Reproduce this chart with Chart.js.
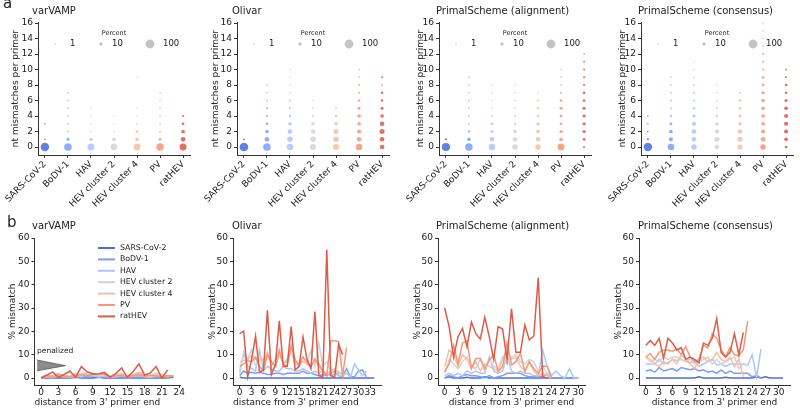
<!DOCTYPE html>
<html>
<head>
<meta charset="utf-8">
<script src="https://cdn.jsdelivr.net/npm/chart.js@4.4.1/dist/chart.umd.min.js"></script>
<style>
  body { margin: 0; background: #fff; }
  #fig { position: relative; width: 800px; height: 410px; overflow: hidden;
         font-family: "DejaVu Sans", sans-serif; color: #222; }
  #fig canvas { position: absolute; }
  .txt { position: absolute; white-space: nowrap; line-height: 1; }
</style>
</head>
<body>
<div id="fig"></div>
<script>
// ---- data ----
const categories = ['SARS-CoV-2', 'BoDV-1', 'HAV', 'HEV cluster 2', 'HEV cluster 4', 'PV', 'ratHEV'];
const tools = ['varVAMP', 'Olivar', 'PrimalScheme (alignment)', 'PrimalScheme (consensus)'];

// panel a: percent of primers with 0,1,2,... nt mismatches (one row per virus)
const varvampPct = [
  [92, 1, 0, 0.8],
  [72, 9, 1, 0.8, 0.8, 0.8, 0.6, 0.5],
  [62, 9, 1, 1, 0.6, 0.5],
  [52, 13, 1.5, 0.8, 0.5],
  [60, 13, 6, 1.5, 1, 0.8, 0, 0, 0, 0.4],
  [70, 6, 1.5, 1, 0.8, 0.8, 0.6, 0.5],
  [60, 23, 13, 6, 3]
];
const olivarPct = [
  [97, 1.5],
  [70, 23, 12, 5, 2, 1.5, 1, 0.8, 0.6],
  [50, 35, 22, 12, 5, 3, 2, 1, 0.6, 0.5, 0.4],
  [42, 35, 22, 12, 3, 1.5, 0.6],
  [42, 35, 28, 12, 5, 2],
  [50, 22, 17, 12, 12, 8, 5, 2, 1.5, 1, 0.6],
  [22, 22, 28, 22, 12, 8, 5, 5, 1, 1.5]
];
const primalAlnPct = [
  [85, 3],
  [70, 13, 3, 1, 1, 0.8, 0.8, 0.6, 0.5, 0.4],
  [51, 23, 9, 6, 1.5, 1, 0.8, 0.6, 0.4],
  [35, 23, 13, 6, 3, 2, 1.5, 1, 0.5],
  [35, 23, 13, 9, 6, 4, 3, 1],
  [60, 13, 9, 6, 6, 9, 6, 2, 1, 1, 0.5],
  [3, 6, 9, 9, 9, 9, 6, 6, 3, 3, 2, 1.5, 1]
];
const primalConsPct = [
  [90, 3, 1, 0.6, 0.5],
  [51, 17, 13, 6, 1.5, 1, 0.8, 0.6, 0.5, 0.4],
  [35, 23, 23, 17, 9, 6, 3, 2, 1.5, 1, 0.6, 0.4],
  [23, 29, 23, 13, 6, 3, 2, 1, 0.6],
  [29, 29, 23, 13, 9, 6, 6, 2],
  [35, 23, 17, 13, 13, 13, 13, 9, 6, 6, 3, 2, 1.5, 1, 0.8, 0.6, 0.5],
  [6, 13, 17, 17, 17, 13, 9, 6, 6, 3, 1.5]
];
const legendSizes = [1, 10, 100];
const mismatchTicks = [0, 2, 4, 6, 8, 10, 12, 14, 16];

// panel b: % mismatch by distance from the 3' end (index = distance)
const varvampLines = [
  [0, 0, 0, 0, 0, 0, 0.3, 0, 0, 0, 0.3, 0, 0, 0, 0, 0, 0, 0, 0, 0, 0, 0, 0, 0.3],
  [0, 0.3, 0, 0.5, 0.3, 0, 0.5, 0.3, 1, 0.8, 0.3, 0.5, 0, 0.3, 0.5, 0, 0.3, 0.5, 0.3, 0, 0.3, 0.5, 0, 1],
  [0, 0.5, 0.3, 1, 0.5, 0.3, 1, 0.5, 1.5, 1, 0.5, 0.8, 0.3, 0.5, 1, 0.5, 0.8, 1, 0.5, 0.3, 0.8, 1, 0.5, 1.2],
  [0.3, 1, 0.5, 1.5, 1, 0.5, 1.5, 1, 2, 1.5, 1, 2, 0.5, 1, 1.5, 1, 1.5, 2, 1, 0.5, 1.5, 1, 0.8, 1],
  [0.3, 1.5, 1, 2, 1, 0.8, 2, 1.5, 2.5, 2, 1.5, 2.5, 0.8, 1.5, 2, 1, 1.5, 2.5, 1.5, 1, 2, 1.5, 1, 0.8],
  [0, 1, 0.5, 1.5, 0.8, 0.5, 1, 1.5, 1, 1.5, 1.8, 1.5, 0.5, 1, 1.2, 0.5, 1, 1.5, 0.8, 1.2, 1, 0.5, 1, 0.8],
  [0, 1.2, 2.6, 0.3, 1.5, 3, 0.3, 4.9, 2.7, 1.7, 1.8, 2.3, 0.3, 2, 4.3, 0.3, 2.8, 6, 1.3, 2.2, 4.9, 0, 3.5]
];
const olivarLines = [
  [0.3, 0, 0, 0, 0, 0, 0, 0, 0, 0, 0, 0, 0, 0, 0, 0, 0, 0, 0, 0, 0, 0, 0, 0, 0, 0, 0, 0, 0, 0, 0, 0, 0, 0, 0],
  [1, 3, 2, 2.5, 2, 2.5, 2, 1.5, 1.5, 2, 2, 1.5, 2, 2, 2, 2, 3, 2, 2, 1.5, 1, 1.5, 1, 2, 3, 1, 0.5, 4, 0.5, 0.5, 3, 3.5, 0.5],
  [2, 11, 5, 4, 3, 12, 3, 5, 4, 3, 3, 5, 4, 4, 3, 3, 4, 3, 2, 3, 2, 3, 2, 1, 2, 1, 1, 2, 0.5, 6, 3.5, 1, 3],
  [3, 11, 8, 12, 5, 8, 6, 10, 7, 5, 10, 6, 7, 11, 6, 5, 9, 6, 12, 5, 15, 5, 7, 3, 2, 3, 1, 2],
  [7, 7.5, 8, 9.5, 8, 10, 7, 11, 5, 8, 11, 6, 8, 13, 7, 6, 7, 6, 5, 8, 5, 3, 2, 3, 4, 2, 2],
  [5, 6, 7.5, 7, 9, 5, 3, 10, 7, 5, 12, 6, 5, 14, 8, 5, 9, 7, 5, 8, 6, 3, 1, 16, 16, 15.5, 1, 13],
  [19, 20, 0.5, 8, 18, 2.5, 3.5, 29, 1.5, 5.5, 24.5, 5, 5, 22, 3.5, 5, 17.5, 8, 4, 28.5, 1, 0.5, 55, 1, 0.5, 14.5, 10]
];
const primalAlnLines = [
  [0, 0.5, 0, 0, 0, 0.3, 0, 0, 0, 0.5, 0, 0, 0, 0, 0, 0, 0, 0, 0, 0, 0, 0, 0, 0, 0, 0, 0, 0, 0, 0, 0],
  [0, 1, 0.5, 0, 1, 1.5, 1, 1, 0.5, 0, 1, 0, 0.5, 1, 2, 2, 2, 2, 1, 0.5, 0.5, 1, 0.5, 2, 0, 0, 0, 0, 0, 0, 0],
  [1, 2, 1, 2, 1, 3, 2, 3, 2, 2, 9, 3, 2, 3, 10, 3, 2, 3, 2, 2, 1, 1, 12, 5, 1, 3, 1, 0, 4, 0, 0],
  [2, 8, 6, 4, 7, 9, 5, 4, 8, 3, 8, 5, 4, 9, 6, 9, 10, 7, 6, 8, 7, 3, 5, 2, 1],
  [5, 12, 10, 5, 10, 8, 4, 7, 3, 6, 5, 4, 3, 8, 12, 8, 9, 5, 3, 7, 3, 1, 2, 1, 0],
  [2.7, 6, 14, 6, 15, 16, 4, 8.4, 8.4, 4, 7.7, 10, 2.7, 5, 15, 5.6, 7, 10.6, 2.7, 7, 4, 2, 5, 5, 0],
  [30, 22, 9, 17.7, 21.3, 13.4, 24, 19, 16.7, 26, 17.7, 8, 22, 21, 7.7, 29.6, 11, 11, 22.7, 16.3, 18, 43, 0.6, 0]
];
const primalConsLines = [
  [0, 0, 0, 0, 0, 0, 0, 0, 0, 0, 0, 0, 0.5, 0, 0, 0, 0, 0, 0.3, 0, 0, 0, 0, 0, 0, 0.5, 0, 0.5, 0, 0, 0, 0],
  [3, 3.5, 2.5, 4.5, 3, 3.5, 4, 3, 4.5, 4, 3.5, 4, 3, 3.5, 2.5, 3, 2, 3.5, 2, 3, 2, 2, 2, 2, 0.5, 1, 0],
  [6, 6, 6, 8, 6, 6.5, 8, 7.5, 8, 7, 6.5, 7, 5, 6, 7, 8, 5.5, 6, 5, 6, 6, 6, 6, 5.5, 10, 0.5, 12.5],
  [9, 7, 8, 7, 9, 8, 9, 9, 8, 7, 8, 6, 7, 8, 9, 6, 8, 6, 7, 8, 9, 4, 6],
  [9, 8, 6, 5, 7, 6, 8, 6, 10, 8, 6, 4, 8, 9, 7, 8, 11, 8, 7, 9, 5, 8, 0.5],
  [9, 10.5, 8, 11, 12, 12, 11.5, 12.5, 10, 13.5, 9, 7, 8, 14, 13, 19, 17, 12, 9, 13, 10, 9.5, 12, 24.5],
  [14, 16, 14, 17, 8.5, 17, 15, 12, 13, 8, 9, 8, 6.5, 15, 14, 17, 25.5, 11, 9, 11, 19, 10, 19.5]
];
const mismatchPctTicks = [0, 10, 20, 30, 40, 50, 60];
const distTicks24 = [0, 3, 6, 9, 12, 15, 18, 21, 24];
const distTicks33 = [0, 3, 6, 9, 12, 15, 18, 21, 24, 27, 30, 33];
const distTicks30 = [0, 3, 6, 9, 12, 15, 18, 21, 24, 27, 30];

// ---- style ----
const seriesColors = ['#4a6ee0', '#7b9ff9', '#aac7fd', '#d4d4d4', '#f5bfa4', '#f4987a', '#dd5c48'];
const FONT = '"DejaVu Sans", sans-serif';
Chart.defaults.font.family = FONT;
Chart.defaults.color = '#222';

const bubbleR = p => 0.4 * Math.sqrt(p) + 0.4;

const fig = document.getElementById('fig');
function addCanvas(L, T, W, H) {
  const c = document.createElement('canvas');
  c.width = W; c.height = H;
  c.style.left = L + 'px'; c.style.top = T + 'px';
  c.style.width = W + 'px'; c.style.height = H + 'px';
  fig.appendChild(c);
  return c;
}
function addText(txt, L, T, size) {
  const d = document.createElement('div');
  d.className = 'txt';
  d.textContent = txt;
  d.style.left = L + 'px'; d.style.top = T + 'px'; d.style.fontSize = size + 'px';
  fig.appendChild(d);
}

// legend with the three reference bubble sizes
const percentLegend = {
  id: 'percentLegend',
  afterDraw(chart) {
    const {ctx, chartArea: a} = chart;
    const cx = (a.left + a.right) / 2;
    const dotX = [-59, -13, 36], textX = [-44, -2, 49];
    ctx.save();
    ctx.textBaseline = 'middle';
    ctx.textAlign = 'center';
    ctx.fillStyle = '#222';
    ctx.font = '6.5px ' + FONT;
    ctx.fillText('Percent', cx, 33);
    ctx.font = '8.5px ' + FONT;
    ctx.textAlign = 'left';
    legendSizes.forEach((p, i) => {
      ctx.fillStyle = 'rgba(185,185,185,0.85)';
      ctx.beginPath();
      ctx.arc(cx + dotX[i], 44, bubbleR(p), 0, Math.PI * 2);
      ctx.fill();
      ctx.fillStyle = '#222';
      ctx.fillText(String(p), cx + textX[i], 44);
    });
    ctx.restore();
  }
};

// line legend + "penalized" note, only on the first panel b
const lineLegend = {
  id: 'lineLegend',
  afterDraw(chart) {
    const {ctx, chartArea: a, scales} = chart;
    ctx.save();
    ctx.textBaseline = 'middle';
    ctx.textAlign = 'left';
    ctx.font = '7.8px ' + FONT;
    chart.data.datasets.slice(0, categories.length).forEach((ds, i) => {
      const y = a.top + 10 + i * 11.4;
      ctx.strokeStyle = ds.borderColor;
      ctx.lineWidth = 2;
      ctx.beginPath();
      ctx.moveTo(a.left + 63.5, y);
      ctx.lineTo(a.left + 80.5, y);
      ctx.stroke();
      ctx.fillStyle = '#222';
      ctx.fillText(ds.label, a.left + 85.5, y);
    });
    ctx.font = '7.5px ' + FONT;
    ctx.fillText('penalized', scales.x.getPixelForValue(-0.7), scales.y.getPixelForValue(11.6));
    ctx.restore();
  }
};

function tickAxis(extra) {
  return Object.assign({
    type: 'linear',
    grid: { drawOnChartArea: false, drawTicks: true, tickLength: 3, color: '#333' },
    border: { display: true, color: '#333', width: 1 }
  }, extra);
}
const tickFont = { size: 9, lineHeight: 1 };
const labelFont = { size: 9 };

function bubblePanel(pct, L, pl, yw, pr) {
  const canvas = addCanvas(L, 0, 200, 210);
  const datasets = categories.map((name, ci) => ({
    label: name,
    data: pct[ci].map((p, k) => ({ x: ci, y: k, r: bubbleR(p), p: p })).filter(d => d.p > 0),
    backgroundColor: seriesColors[ci] + 'dd',
    borderWidth: 0,
    hoverRadius: 0
  }));
  new Chart(canvas, {
    type: 'bubble',
    data: { datasets },
    options: {
      responsive: false, animation: false, events: [],
      layout: { padding: { left: pl, right: pr, top: 22, bottom: 0 } },
      plugins: { legend: { display: false }, tooltip: { enabled: false } },
      scales: {
        x: tickAxis({
          min: -0.3, max: 6.3,
          afterBuildTicks: s => { s.ticks = categories.map((c, i) => ({ value: i })); },
          afterFit: s => { s.height = 55; s.paddingLeft = 0; s.paddingRight = 0; },
          ticks: { autoSkip: false, minRotation: 45, maxRotation: 45, padding: 1,
                   font: { size: 9 }, color: '#222', callback: v => categories[v] }
        }),
        y: tickAxis({
          min: -1.03, max: 16.13,
          afterBuildTicks: s => { s.ticks = mismatchTicks.map(v => ({ value: v })); },
          afterFit: s => { s.width = yw; s.paddingTop = 0; s.paddingBottom = 0; },
          ticks: { padding: 2, font: tickFont, color: '#222' },
          title: { display: true, text: 'nt mismatches per primer', padding: 0,
                   font: labelFont, color: '#222' }
        })
      }
    },
    plugins: [percentLegend]
  });
}

function linePanel(lines, L, pl, yw, pr, xmin, xmax, xticks, titleAlign, withLegend) {
  const canvas = addCanvas(L, 205, 200, 205);
  const datasets = categories.map((name, ci) => ({
    label: name,
    data: lines[ci].map((v, d) => ({ x: d, y: v })),
    borderColor: seriesColors[ci],
    backgroundColor: seriesColors[ci],
    borderWidth: 1.5,
    pointRadius: 0,
    tension: 0,
    fill: false,
    order: categories.length - ci
  }));
  if (withLegend) {
    // grey wedge marking the penalized 3' region
    datasets.push({ label: 'wedgeTop', data: [{ x: -0.7, y: 7.7 }, { x: 4.2, y: 5.3 }],
      borderColor: '#555', borderWidth: 0.8, pointRadius: 0, fill: false, order: 20 });
    datasets.push({ label: 'wedgeBottom', data: [{ x: -0.7, y: 3.1 }, { x: 4.2, y: 5.3 }],
      borderColor: '#555', borderWidth: 0.8, pointRadius: 0, fill: '-1',
      backgroundColor: 'rgba(120,120,120,0.85)', order: 20 });
  }
  new Chart(canvas, {
    type: 'line',
    data: { datasets },
    options: {
      responsive: false, animation: false, events: [],
      layout: { padding: { left: pl, right: pr, top: 33, bottom: 2 } },
      plugins: { legend: { display: false }, tooltip: { enabled: false } },
      scales: {
        x: tickAxis({
          min: xmin, max: xmax,
          afterBuildTicks: s => { s.ticks = xticks.map(v => ({ value: v })); },
          afterFit: s => { s.height = 23; s.paddingLeft = 0; s.paddingRight = 0; },
          ticks: { autoSkip: false, maxRotation: 0, padding: 0, font: tickFont, color: '#222' },
          title: { display: true, text: "distance from 3' primer end", padding: 0, align: titleAlign,
                   font: labelFont, color: '#222' }
        }),
        y: tickAxis({
          min: -3, max: 60,
          afterBuildTicks: s => { s.ticks = mismatchPctTicks.map(v => ({ value: v })); },
          afterFit: s => { s.width = yw; s.paddingTop = 0; s.paddingBottom = 0; },
          ticks: { padding: 2, font: tickFont, color: '#222' },
          title: { display: true, text: '% mismatch', padding: 0, font: labelFont, color: '#222' }
        })
      }
    },
    plugins: withLegend ? [lineLegend] : []
  });
}

// ---- panel a ----
bubblePanel(varvampPct, 0, 10, 28, 10);
bubblePanel(olivarPct, 200, 10, 27, 11);
bubblePanel(primalAlnPct, 400, 15, 24, 9);
bubblePanel(primalConsPct, 600, 17, 24, 7);

// ---- panel b ----
linePanel(varvampLines, 0, 7, 27.5, 20, -1.15, 24.15, distTicks24, 'start', true);
linePanel(olivarLines, 200, 7, 26, 19, -1.7, 35.7, distTicks33, 'start', false);
linePanel(primalAlnLines, 400, 12, 26, 15, -1.5, 31.5, distTicks30, 'center', false);
linePanel(primalConsLines, 600, 13, 26, 10, -1.55, 32.55, distTicks30, 'center', false);

// ---- titles and panel letters ----
const titleX = [32, 232, 436, 638];
tools.forEach((t, i) => {
  addText(t, titleX[i], 6, 10);
  addText(t, titleX[i], 221, 10);
});
addText('a', 3, -4, 15);
addText('b', 7, 215, 15);
</script>
</body>
</html>
